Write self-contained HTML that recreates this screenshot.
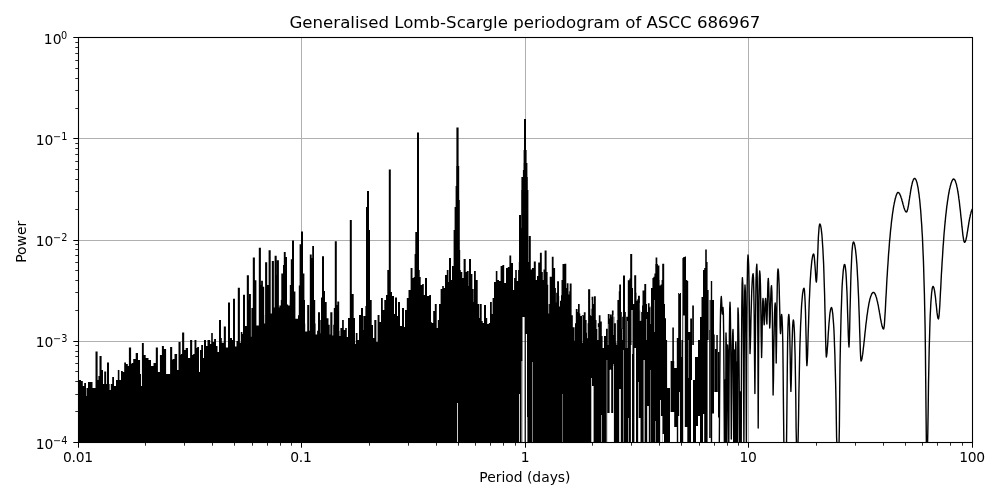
<!DOCTYPE html>
<html lang="en"><head><meta charset="utf-8"><title>Generalised Lomb-Scargle periodogram of ASCC 686967</title>
<style>html,body{margin:0;padding:0;background:#fff}body{width:1000px;height:500px;overflow:hidden}svg{display:block;will-change:transform}text{font-family:"DejaVu Sans","Liberation Sans",sans-serif;fill:#000}</style>
</head><body>
<svg width="1000" height="500" viewBox="0 0 1000 500">
<rect width="1000" height="500" fill="#fff"/>
<defs><clipPath id="ax"><rect x="78.5" y="37.5" width="894" height="405"/></clipPath>
<mask id="gm" maskUnits="userSpaceOnUse" x="0" y="0" width="1000" height="500"><rect width="1000" height="500" fill="#fff"/>
<rect x="457" y="403" width="0.8" height="57" fill="#000"/>
<rect x="519" y="394" width="0.8" height="66" fill="#000"/>
<rect x="521.6" y="361" width="0.9" height="99" fill="#000"/>
<rect x="527.2" y="417" width="0.4" height="43" fill="#000"/>
<rect x="522.5" y="317" width="2.1" height="143" fill="#000"/>
<rect x="525.8" y="334" width="1.2" height="126" fill="#000"/>
<rect x="532.2" y="362" width="0.5" height="98" fill="#000"/>
<rect x="562.2" y="394" width="0.4" height="66" fill="#000"/>
<rect x="591.3" y="378" width="0.7" height="82" fill="#000"/>
<rect x="592" y="386" width="1.6" height="74" fill="#000"/>
<rect x="601" y="415" width="0.6" height="45" fill="#000"/>
<rect x="607.2" y="413" width="6.4" height="47" fill="#000"/>
<rect x="609.6" y="370" width="1.6" height="90" fill="#000"/>
<rect x="613.4" y="366" width="0.5" height="94" fill="#000"/>
<rect x="619.2" y="389" width="1.6" height="71" fill="#000"/>
<rect x="623.3" y="350" width="0.5" height="110" fill="#000"/>
<rect x="628" y="418" width="0.6" height="42" fill="#000"/>
<rect x="630.9" y="345" width="1.1" height="115" fill="#000"/>
<rect x="634.4" y="348" width="1.6" height="112" fill="#000"/>
<rect x="638.4" y="382" width="0.6" height="78" fill="#000"/>
<rect x="638.4" y="418" width="2.1" height="42" fill="#000"/>
<rect x="643.6" y="360" width="1" height="100" fill="#000"/>
<rect x="647.2" y="406" width="1.6" height="54" fill="#000"/>
<rect x="650.2" y="370" width="0.4" height="90" fill="#000"/>
<rect x="655" y="421" width="0.5" height="39" fill="#000"/>
<rect x="660" y="400" width="0.8" height="60" fill="#000"/>
<rect x="660.8" y="416" width="1.6" height="44" fill="#000"/>
<rect x="662.4" y="434" width="1.6" height="26" fill="#000"/>
<rect x="606.7" y="360" width="0.5" height="100" fill="#000"/>
<rect x="610" y="369.6" width="1" height="90.4" fill="#000"/>
<rect x="613.1" y="364" width="0.5" height="96" fill="#000"/>
<rect x="582.2" y="316" width="0.5" height="27" fill="#000"/>
<rect x="587" y="321" width="0.5" height="17" fill="#000"/>
<rect x="591" y="300" width="0.4" height="16" fill="#000"/>
<rect x="597" y="327" width="0.5" height="13" fill="#000"/>
<rect x="598.2" y="327" width="0.4" height="13" fill="#000"/>
<rect x="603" y="332" width="0.5" height="16" fill="#000"/>
<rect x="607.8" y="324" width="0.5" height="21" fill="#000"/>
<rect x="613.4" y="315" width="0.4" height="20" fill="#000"/>
<rect x="616.6" y="316" width="0.5" height="29" fill="#000"/>
<rect x="622.2" y="329" width="0.5" height="11" fill="#000"/>
<rect x="627" y="321" width="0.5" height="27" fill="#000"/>
<rect x="631" y="310" width="0.5" height="44" fill="#000"/>
<rect x="632.4" y="310" width="0.5" height="44" fill="#000"/>
<rect x="635" y="348" width="0.5" height="16" fill="#000"/>
<rect x="639.8" y="303" width="0.5" height="18" fill="#000"/>
<rect x="646.2" y="319" width="0.5" height="21" fill="#000"/>
<rect x="650.2" y="305" width="0.4" height="19" fill="#000"/>
<rect x="654.2" y="300" width="0.5" height="32" fill="#000"/>
</mask></defs>
<g stroke="#b0b0b0" stroke-width="1" fill="none">
<line x1="301.5" y1="37.5" x2="301.5" y2="442.5"/>
<line x1="525.5" y1="37.5" x2="525.5" y2="442.5"/>
<line x1="748.5" y1="37.5" x2="748.5" y2="442.5"/>
<line x1="78.5" y1="138.5" x2="972.5" y2="138.5"/>
<line x1="78.5" y1="240.5" x2="972.5" y2="240.5"/>
<line x1="78.5" y1="341.5" x2="972.5" y2="341.5"/>
</g>
<g clip-path="url(#ax)">
<g mask="url(#gm)"><polygon points="77,460 77,381 79,381 79,380 81,380 81,381 82.8,381 82.8,386 84.2,386 84.2,383 86,383 86,396 86.5,396 86.5,388 88,388 88,382 92.5,382 92.5,388 95.5,388 95.5,351.4 97.6,351.4 97.6,380 98.4,380 98.4,376 99.5,376 99.5,356 101.6,356 101.6,370 103,370 103,384 104.2,384 104.2,371.4 106.2,371.4 106.2,384 107,384 107,362.4 109,362.4 109,384 109.6,384 109.6,390 110.8,390 110.8,384 112.2,384 112.2,377 114,377 114,386 116,386 116,380 117.8,380 117.8,370 119.4,370 119.4,380 121,380 121,371 122.8,371 122.8,372 124.2,372 124.2,362.4 126,362.4 126,364 127.8,364 127.8,366 128.9,366 128.9,347.6 131.1,347.6 131.1,364 131.6,364 131.6,363 133.2,363 133.2,359 135.7,359 135.7,353 138,353 138,360 140.1,360 140.1,374 141,374 141,386 141.9,386 141.9,343 143.8,343 143.8,355 145.7,355 145.7,358 148.5,358 148.5,360 151,360 151,366 153.5,366 153.5,363 155.8,363 155.8,347.6 157.9,347.6 157.9,372 159.9,372 159.9,355 161.9,355 161.9,346 163.9,346 163.9,349 166.1,349 166.1,374 170.1,374 170.1,347 172.2,347 172.2,360 172.6,360 172.6,359 174.5,359 174.5,354 177.1,354 177.1,370 178.5,370 178.5,342 180.6,342 180.6,355 180.9,355 180.9,354 182.1,354 182.1,332.6 184.2,332.6 184.2,350 185.7,350 185.7,348 188,348 188,358 190.1,358 190.1,340 192.2,340 192.2,355 193.2,355 193.2,354 194.5,354 194.5,340 196.4,340 196.4,348 197.2,348 197.2,347 199,347 199,372 200,372 200,350 201.2,350 201.2,345 203,345 203,358 204,358 204,340 206,340 206,346 207.5,346 207.5,340 210.1,340 210.1,344 211.2,344 211.2,333 212.8,333 212.8,342 214.1,342 214.1,339 216,339 216,346 217.5,346 217.5,352 219,352 219,320 221,320 221,338 221.8,338 221.8,342.8 223.8,342.8 223.8,326.6 225.9,326.6 225.9,347.6 228,347.6 228,302.6 230,302.6 230,338 232,338 232,340 233,340 233,298.8 235,298.8 235,346.4 236.5,346.4 236.5,341 237.8,341 237.8,287.8 239.9,287.8 239.9,342.8 240.8,342.8 240.8,332 242.4,332 242.4,334 243,334 243,294.8 245,294.8 245,326 246.8,326 246.8,275.2 248.9,275.2 248.9,300 249,300 249,294 250.9,294 250.9,336.8 251.4,336.8 251.4,308 252.8,308 252.8,257.4 254.9,257.4 254.9,280.2 256.4,280.2 256.4,325.4 258.8,325.4 258.8,247.8 260.9,247.8 260.9,285 261.1,285 261.1,280.8 262.9,280.8 262.9,286.8 264.2,286.8 264.2,315 264.3,315 264.3,323.6 265.1,323.6 265.1,262.2 267.2,262.2 267.2,285 268.6,285 268.6,250.2 270.7,250.2 270.7,313.4 271.8,313.4 271.8,261 273.9,261 273.9,307.4 274.6,307.4 274.6,255.8 276.7,255.8 276.7,275 276.8,275 276.8,260.2 278.9,260.2 278.9,307.4 279.4,307.4 279.4,305.6 280.8,305.6 280.8,300 281.3,300 281.3,273.6 283,273.6 283,265 283.8,265 283.8,252 285.7,252 285.7,257 287,257 287,304.4 288.1,304.4 288.1,305.6 289.7,305.6 289.7,300 289.8,300 289.8,285 290.8,285 290.8,259.2 292,259.2 292,240.6 294,240.6 294,291.6 295.4,291.6 295.4,318.8 298,318.8 298,315.2 298.8,315.2 298.8,285.6 299.6,285.6 299.6,244.2 301,244.2 301,231.4 303,231.4 303,273.6 304.4,273.6 304.4,300 305,300 305,323.6 305.2,323.6 305.2,331.4 307.2,331.4 307.2,305 309.2,305 309.2,330.8 309.8,330.8 309.8,254.4 311.7,254.4 311.7,258 312.2,258 312.2,246 314,246 314,300 315.2,300 315.2,323.6 315.6,323.6 315.6,334.4 317.1,334.4 317.1,330.8 318,330.8 318,312.2 320,312.2 320,333.2 320.3,333.2 320.3,320 321,320 321,297.6 322,297.6 322,256.2 324,256.2 324,291 325,291 325,302 326.7,302 326.7,318.2 328.5,318.2 328.5,324.8 329.7,324.8 329.7,334.4 330.3,334.4 330.3,312.2 332.4,312.2 332.4,335.6 333.2,335.6 333.2,324.8 333.8,324.8 333.8,308 334.8,308 334.8,241.2 336.8,241.2 336.8,305 337.3,305 337.3,301.4 339.2,301.4 339.2,330.8 339.5,330.8 339.5,336 340.4,336 340.4,328 342.1,328 342.1,320 343.8,320 343.8,330 345.2,330 345.2,328 346.8,328 346.8,337 348,337 348,318 349.8,318 349.8,220 351.8,220 351.8,294 353.7,294 353.7,318 355,318 355,344 355.8,344 355.8,333 357.5,333 357.5,340 359,340 359,315 361,315 361,308 363,308 363,330 363.3,330 363.3,316 365.4,316 365.4,306 366,306 366,207 367,207 367,191 369,191 369,230 370,230 370,300 371.7,300 371.7,325 373,325 373,338 374.3,338 374.3,320 376.4,320 376.4,342 377.6,342 377.6,315 379.5,315 379.5,322 381,322 381,298 382.8,298 382.8,310 384.3,310 384.3,300 386,300 386,295 387.3,295 387.3,270 388.8,270 388.8,169.6 390.8,169.6 390.8,292 392,292 392,296 394,296 394,314 395,314 395,297.6 397,297.6 397,316 398,316 398,302 400,302 400,326 402,326 402,308 404,308 404,327 405,327 405,310 406.8,310 406.8,298 408.5,298 408.5,290 410.6,290 410.6,268 412.5,268 412.5,278 413.7,278 413.7,277 414.6,277 414.6,254 415.3,254 415.3,232 417,232 417,132.6 419,132.6 419,270 419.7,270 419.7,277 420.7,277 420.7,285 422.2,285 422.2,284 423.8,284 423.8,295 425,295 425,278 427,278 427,296 429.2,296 429.2,295 431,295 431,322 431.7,322 431.7,323 433.2,323 433.2,311 434.8,311 434.8,304 436.7,304 436.7,328 437.8,328 437.8,320 439,320 439,304 440.6,304 440.6,289 442.2,289 442.2,286 443.8,286 443.8,288 445,288 445,275 446.8,275 446.8,270 448.5,270 448.5,282 449,282 449,258 451,258 451,280 452,280 452,266 453.6,266 453.6,230 454.6,230 454.6,207 455.6,207 455.6,186 456.2,186 456.2,166 456.4,166 456.4,127.4 458.6,127.4 458.6,166 459.2,166 459.2,200 459.8,200 459.8,250 460.2,250 460.2,270 460.8,270 460.8,272 462.3,272 462.3,278 463.6,278 463.6,259 465.7,259 465.7,272 466.8,272 466.8,271 468.7,271 468.7,286 469,286 469,259 471,259 471,274 472.4,274 472.4,289 473.7,289 473.7,302 474,302 474,271 475.8,271 475.8,280 477.7,280 477.7,304 479,304 479,318 479.6,318 479.6,304 481.7,304 481.7,321 482.7,321 482.7,323 484,323 484,305 486,305 486,318 487.2,318 487.2,324 488.8,324 488.8,323 490,323 490,302 491.8,302 491.8,314 492.6,314 492.6,298 494,298 494,282 495.8,282 495.8,271 497.4,271 497.4,280 499,280 499,281 500.6,281 500.6,266 502.4,266 502.4,265 504.2,265 504.2,283 506,283 506,268 507.8,268 507.8,267 509.4,267 509.4,255.6 511.2,255.6 511.2,263 513,263 513,290 514.1,290 514.1,278 515.2,278 515.2,270 516.8,270 516.8,281 518.1,281 518.1,270 518.8,270 518.8,262 519,262 519,215 521,215 521,228 521.2,228 521.2,190 521.4,190 521.4,177 522.9,177 522.9,170 523.5,170 523.5,163 523.6,163 523.6,150 524,150 524,119 526,119 526,150 526.6,150 526.6,163 527.4,163 527.4,177 527.8,177 527.8,190 528.4,190 528.4,262 528.8,262 528.8,236 530.8,236 530.8,269.6 532,269.6 532,268 533.8,268 533.8,261.6 535.8,261.6 535.8,280 537,280 537,276 538.2,276 538.2,262.4 539.9,262.4 539.9,252.8 541.8,252.8 541.8,272 542.8,272 542.8,280 543.5,280 543.5,269.6 544.6,269.6 544.6,250.4 546.6,250.4 546.6,272 547.6,272 547.6,284.8 548.2,284.8 548.2,304 548.5,304 548.5,313.6 549.1,313.6 549.1,304 549.7,304 549.7,276.8 551.8,276.8 551.8,256.8 553.6,256.8 553.6,268 555.1,268 555.1,288 555.9,288 555.9,302.4 556.2,302.4 556.2,292.8 557.1,292.8 557.1,281.3 559,281.3 559,296 559.2,296 559.2,306.4 560,306.4 560,300.8 561,300.8 561,295.2 561.5,295.2 561.5,280 562.5,280 562.5,264 564.4,264 564.4,263.7 566.3,263.7 566.3,288 566.8,288 566.8,283.2 568.5,283.2 568.5,291.2 568.6,291.2 568.6,294.4 569.2,294.4 569.2,291.2 569.7,291.2 569.7,283.5 571.6,283.5 571.6,315.2 572.8,315.2 572.8,327.2 574.6,327.2 574.6,340.8 575,340.8 575,323.2 575.8,323.2 575.8,309.1 577.6,309.1 577.6,312 578,312 578,304 579.7,304 579.7,313.6 580.3,313.6 580.3,316 581.8,316 581.8,315.2 583.8,315.2 583.8,312.3 585.6,312.3 585.6,320 586.6,320 586.6,332.8 587,332.8 587,338.4 587.3,338.4 587.3,323.2 588.1,323.2 588.1,289.3 590.2,289.3 590.2,315.2 590.9,315.2 590.9,308.8 591.6,308.8 591.6,296.8 593.3,296.8 593.3,304 593.9,304 593.9,296.3 595.8,296.3 595.8,320 596.5,320 596.5,329 597.5,329 597.5,340 597.8,340 597.8,323.2 598.8,323.2 598.8,315.2 600.5,315.2 600.5,321.6 601.8,321.6 601.8,336 602.6,336 602.6,348 604,348 604,336 606,336 606,328.8 607.8,328.8 607.8,313.9 609.6,313.9 609.6,318.4 610,318.4 610,314.4 611.7,314.4 611.7,316.8 611.9,316.8 611.9,310.4 613.6,310.4 613.6,316.8 614.3,316.8 614.3,323.2 615.9,323.2 615.9,342.4 616.6,342.4 616.6,344.8 616.7,344.8 616.7,320 617.4,320 617.4,300 618.8,300 618.8,291.2 619.2,291.2 619.2,284.5 621,284.5 621,312 621.8,312 621.8,328.8 622.2,328.8 622.2,316.8 623,316.8 623,275.5 625,275.5 625,312 625.8,312 625.8,348 626.2,348 626.2,316.8 627.8,316.8 627.8,280.3 629.4,280.3 629.4,278.4 630.2,278.4 630.2,254.1 632.2,254.1 632.2,288 633,288 633,304 634.2,304 634.2,275.2 636.2,275.2 636.2,292.8 636.5,292.8 636.5,300.8 637.3,300.8 637.3,299.2 638,299.2 638,295.7 639.9,295.7 639.9,310.4 640.3,310.4 640.3,320.8 641.2,320.8 641.2,312 642,312 642,305.6 642.5,305.6 642.5,290.4 644.3,290.4 644.3,284 646.2,284 646.2,304 647,304 647,312 647.9,312 647.9,303.2 649.6,303.2 649.6,307.2 650.6,307.2 650.6,305.9 651,305.9 651,288 652.4,288 652.4,278.1 653.4,278.1 653.4,276.8 654.4,276.8 654.4,273.6 655.3,273.6 655.3,264 655.6,264 655.6,257.6 657.3,257.6 657.3,264 657.9,264 657.9,265.6 659.4,265.6 659.4,280 659.6,280 659.6,285.6 660.6,285.6 660.6,284.5 661.6,284.5 661.6,280 662.2,280 662.2,263.7 664.2,263.7 664.2,304 665,304 665,318.5 666,318.5 666,445 666.1,445 666.1,460 666.7,460 666.7,460" fill="#000"/></g>
<path d="M664 446V318H665.5V446ZM665.9 446V340H667.1V446ZM667 446V388H670V446ZM670.6 412V361H674.2V412ZM674.2 427V368H676.8V427ZM672.3 362V327.5H673.9V362ZM676.8 446V338H678.2V446ZM678.2 416V293H679.2V416ZM679.2 392V294H680V392ZM680 446V293H681V446ZM681 446V340H682.5V446ZM682.4 446V258H683.2V446ZM683.2 315.5V257H684.8V315.5ZM684.8 427V256.5H686V427ZM686 427V280H687.3V427ZM687.3 446V281H688.2V446ZM688.2 446V332H689.2V446ZM689.2 446V332H690.2V446ZM690.2 446V318.5H691V446ZM691 380V318.5H692V380ZM692.2 345V305.5H693.9V345ZM693 446V380H696V446ZM695 426V357H698V426ZM698 416V340H700V416ZM700 446V317H701.5V446ZM701.5 446V297H703V446ZM703 414V270H704.2V414ZM704.2 446V268H705.2V446ZM705.2 446V249.5H706.8V446ZM706.8 446V262H707.6V446ZM707.6 340V290H708.6V340ZM709.2 438V300H710.6V438ZM710.8 446V281H712.2V446ZM712.2 413.5V300H714V413.5ZM713.2 392V334.5H714.7V392ZM715 392V349H716.3V392ZM716.3 392V335H717.8V392ZM718 417.5V352H719.6V417.5Z" fill="#000"/>
<rect x="681.3" y="340" width="0.4" height="17" fill="#fff"/>
<rect x="688.1" y="340" width="0.4" height="38" fill="#fff"/>
<rect x="709" y="290" width="0.5" height="40" fill="#fff"/>
<polyline points="719.3,446 719.6,398.5 720,353.2 720.3,325.5 720.6,308.7 721,299.4 721.3,296.5 721.5,298.7 721.8,304.4 722,311 722.3,314 722.5,313 722.6,310.6 722.8,308.4 723,307.5 723.4,314.1 723.7,336.1 724,382.1 724.4,446 724.6,427.9 724.8,401.6 724.9,385.3 725.1,380 725.2,385.3 725.4,401.6 725.6,427.9 725.7,446 725.8,401.2 725.9,360.2 725.9,339.4 726,333 726.2,339.4 726.5,360.2 726.7,401.2 726.9,446 727.1,409.2 727.2,371.2 727.4,351.2 727.6,345 727.9,351.2 728.2,371.2 728.5,409.2 728.8,446 729.1,377.8 729.4,331 729.7,308.9 730,302.2 730.3,308.8 730.6,330.7 731,376.5 731.3,439 731.6,407.3 732,369.8 732.3,346.2 732.7,333.5 733,329.5 733.2,335.9 733.4,357 733.5,398.8 733.7,446 733.9,412.3 734,375.8 734.2,356.1 734.4,350 734.6,356.1 734.8,375.8 734.9,412.3 735.1,446 735.3,407.2 735.5,368.5 735.6,348.3 735.8,342 736,348.3 736.1,368.5 736.3,407.2 736.5,446 736.6,419.1 736.8,386.4 737,367.9 737.1,362 737.2,367.9 737.4,386.4 737.5,419.1 737.6,446 737.7,382.5 737.8,336.6 737.9,314.6 738,308 738.4,314.6 738.8,336.6 739.2,382.5 739.6,446 739.8,432.7 740,411.2 740.2,396.8 740.4,392 740.6,396.8 740.8,411.2 741,432.7 741.2,446 741.5,356.8 741.8,307.1 742.1,284.4 742.4,277.6 742.8,284.4 743.1,307.1 743.5,356.8 743.9,446 744.2,363.3 744.5,314.3 744.7,291.8 745,285 745.4,291.8 745.7,314.3 746,363.3 746.4,446 746.8,336.2 747.2,284.9 747.6,261.9 748,255 748.3,257.7 748.7,266.1 749,281 749.3,303.8 749.7,333.9 750,353.6 750.3,347.2 750.7,332.8 751,317.1 751.4,303.3 751.7,292.3 752.1,283.9 752.4,278.1 752.8,274.7 753.1,273.6 753.5,277.7 753.8,290.7 754.2,315.2 754.5,355.6 754.9,393.5 755.3,349.7 755.7,306.8 756,281.7 756.4,268.5 756.8,264.3 757.1,271.1 757.5,293.7 757.9,342.9 758.2,428 758.6,348.7 759,300.2 759.3,277.7 759.7,271 760.1,274.8 760.5,286.5 760.8,307.4 761.2,337.2 761.6,357.6 762,342.3 762.3,318.7 762.6,303.4 763,298.4 763.3,301.4 763.6,309.6 763.9,319.8 764.2,324.8 764.6,319.8 764.9,309.6 765.2,301.4 765.6,298.4 765.9,301.3 766.2,309.4 766.6,319.2 766.9,324 767.2,313.6 767.6,295.5 767.9,282.8 768.3,278.4 768.6,283 769,296.5 769.4,316.3 769.7,328 770.1,321.7 770.4,308.4 770.8,296.2 771.1,288.3 771.5,285.6 771.9,291.9 772.3,312.6 772.7,352.7 773.1,395 773.5,377.9 773.8,350.1 774.2,328.3 774.5,313.9 774.9,305.7 775.2,303 775.5,308.1 775.7,323.5 776,347.4 776.2,363 776.6,339.3 776.9,306.8 777.3,285 777.6,272.9 778,269 778.4,270.7 778.7,275.9 779.1,284.6 779.4,297 779.8,312.1 780.1,326.9 780.5,333.6 780.8,330.2 781,323 781.3,316.7 781.6,314.4 782,317.3 782.4,326.3 782.8,342.7 783.1,369.2 783.5,409.9 783.9,446 784.3,446 784.6,446 785,446 785.4,446 785.8,446 786.1,446 786.5,446 786.9,409.9 787.3,369.2 787.6,342.7 788,326.3 788.4,317.3 788.8,314.4 789.1,316.9 789.5,324.6 789.8,337.8 790.2,356.9 790.5,379.2 790.9,391.4 791.2,383.3 791.6,366.4 791.9,349.7 792.3,336.4 792.6,327.2 793,321.8 793.3,320 793.7,321.3 794,325.1 794.4,331.8 794.7,341.7 795.1,355.4 795.4,374 795.8,398.6 796.1,428.2 796.5,446 796.9,446 797.2,446 797.5,446 797.9,446 798.2,435.6 798.6,414.2 798.9,392.8 799.3,374.2 799.6,358.7 799.9,345.7 800.3,334.7 800.6,325.4 801,317.6 801.3,310.9 801.6,305.2 802,300.5 802.3,296.7 802.6,293.6 803,291.3 803.3,289.6 803.7,288.6 804,288.3 804.4,289.7 804.7,294 805.1,301.3 805.5,311.8 805.8,325.6 806.2,342.2 806.5,358.2 806.9,365.6 807.2,362.5 807.6,354.6 807.9,344 808.2,332.7 808.6,321.8 808.9,311.7 809.2,302.7 809.6,294.6 809.9,287.4 810.2,281.1 810.6,275.6 810.9,270.8 811.3,266.7 811.6,263.2 811.9,260.4 812.3,258 812.6,256.3 812.9,255 813.3,254.2 813.6,254 814,254.8 814.3,257.1 814.6,260.9 815,265.8 815.4,271.3 815.7,276.6 816,280.5 816.4,282 816.7,279.1 817.1,271.8 817.4,262.3 817.8,252.7 818.1,244.1 818.4,236.8 818.8,231.2 819.1,227.2 819.5,224.8 819.8,224 820.1,224.3 820.5,225.1 820.8,226.6 821.2,228.6 821.5,231.3 821.9,234.7 822.2,238.7 822.5,243.5 822.9,249.2 823.2,255.8 823.6,263.4 823.9,272.3 824.2,282.5 824.6,294.3 824.9,307.7 825.3,322.7 825.6,338.3 826,351.5 826.3,357 826.6,356 827,353.2 827.3,349 827.7,344 828,338.6 828.3,333.2 828.7,328.1 829,323.4 829.4,319.3 829.7,315.7 830,312.8 830.4,310.5 830.7,308.9 831.1,307.9 831.4,307.6 831.8,308 832.1,309.2 832.4,311.3 832.8,314.2 833.1,318.1 833.5,323 833.9,329 834.2,336.2 834.5,344.9 834.9,355.2 835.2,367.5 835.6,382.2 836,399.5 836.3,419 836.6,437.5 837,446 837.3,446 837.7,446 838,446 838.3,446 838.7,446 839,446 839.4,425.6 839.7,393.1 840,366 840.4,344.9 840.8,328.1 841.1,314.5 841.5,303.4 841.8,294.2 842.1,286.5 842.5,280.3 842.9,275.2 843.2,271.2 843.6,268.2 843.9,266.1 844.2,264.8 844.6,264.4 844.9,264.9 845.3,266.6 845.6,269.3 846,273.3 846.3,278.4 846.6,284.9 847,292.7 847.3,301.9 847.6,312.4 848,323.7 848.3,334.9 848.7,343.6 849,347 849.3,341.1 849.7,327.2 850,311.4 850.4,296.7 850.7,284 851,273.2 851.4,264.4 851.7,257.2 852,251.6 852.4,247.3 852.7,244.3 853.1,242.6 853.4,242 853.7,242.2 854.1,242.8 854.4,243.9 854.8,245.4 855.1,247.3 855.5,249.7 855.8,252.6 856.2,256 856.5,259.9 856.9,264.5 857.2,269.6 857.5,275.5 857.9,282.1 858.2,289.5 858.6,297.8 858.9,307 859.3,317.2 859.6,328.2 860,339.5 860.3,350 860.7,358 861,361 861.3,360.7 861.7,359.8 862,358.4 862.3,356.5 862.7,354.2 863,351.6 863.3,348.7 863.7,345.7 864,342.5 864.4,339.3 864.7,336.1 865,332.9 865.4,329.8 865.7,326.7 866,323.8 866.4,321 866.7,318.3 867,315.7 867.4,313.3 867.7,311 868,308.8 868.4,306.8 868.7,304.9 869,303.2 869.4,301.5 869.7,300.1 870,298.7 870.4,297.5 870.7,296.4 871.1,295.5 871.4,294.7 871.7,294 872.1,293.4 872.4,293 872.7,292.7 873.1,292.5 873.4,292.4 873.7,292.5 874.1,292.7 874.4,293 874.8,293.5 875.1,294.1 875.4,294.8 875.8,295.7 876.1,296.7 876.5,297.8 876.8,299.1 877.1,300.5 877.5,301.9 877.8,303.5 878.2,305.2 878.5,307 878.8,308.8 879.2,310.7 879.5,312.7 879.9,314.7 880.2,316.6 880.5,318.6 880.9,320.4 881.2,322.2 881.6,323.9 881.9,325.3 882.2,326.6 882.6,327.6 882.9,328.4 883.3,328.8 883.6,329 883.9,328.1 884.3,325.5 884.6,321.5 884.9,316.4 885.3,310.6 885.6,304.4 885.9,298.1 886.3,291.8 886.6,285.6 886.9,279.7 887.3,273.9 887.6,268.5 888,263.3 888.3,258.3 888.6,253.6 889,249.1 889.3,244.9 889.6,240.9 890,237.1 890.3,233.5 890.6,230.1 891,226.8 891.3,223.8 891.6,220.9 892,218.1 892.3,215.5 892.6,213.1 893,210.8 893.3,208.7 893.6,206.6 894,204.7 894.3,203 894.7,201.3 895,199.8 895.3,198.5 895.7,197.2 896,196.1 896.3,195.1 896.7,194.2 897,193.5 897.3,193 897.7,192.6 898,192.4 898.3,192.5 898.7,192.6 899,193 899.3,193.4 899.7,193.9 900,194.6 900.4,195.4 900.7,196.2 901,197.2 901.4,198.2 901.7,199.3 902,200.5 902.4,201.7 902.7,203 903,204.2 903.4,205.4 903.7,206.6 904,207.7 904.4,208.8 904.7,209.7 905.1,210.5 905.4,211.1 905.7,211.6 906.1,211.9 906.4,212 906.7,211.8 907.1,211.1 907.4,210.1 907.8,208.7 908.1,207.1 908.5,205.2 908.8,203.1 909.1,200.9 909.5,198.7 909.8,196.4 910.2,194.2 910.5,192.1 910.8,190 911.2,188.1 911.5,186.3 911.9,184.7 912.2,183.3 912.5,182 912.9,180.9 913.2,180 913.6,179.3 913.9,178.8 914.3,178.5 914.6,178.4 914.9,178.5 915.3,178.8 915.6,179.2 915.9,179.8 916.3,180.6 916.6,181.6 917,182.8 917.3,184.2 917.6,185.8 918,187.5 918.3,189.5 918.6,191.8 919,194.2 919.3,197 919.7,200 920,203.2 920.3,206.8 920.7,210.8 921,215.1 921.3,219.8 921.7,224.9 922,230.6 922.4,236.8 922.7,243.7 923,251.3 923.4,259.9 923.7,269.6 924,280.6 924.4,293.4 924.7,308.6 925.1,326.8 925.4,349.7 925.7,379.5 926.1,418.1 926.4,446 926.7,446 927,446 927.2,446 927.5,446 927.8,432.7 928.2,407.5 928.5,384 928.9,364.5 929.2,348.6 929.6,335.5 929.9,324.7 930.2,315.7 930.6,308.2 930.9,302.1 931.3,297.1 931.6,293.2 932,290.2 932.3,288.1 932.7,286.8 933,286.4 933.3,286.6 933.7,287.3 934,288.4 934.4,289.9 934.7,291.8 935,294.1 935.4,296.8 935.7,299.7 936,302.9 936.4,306.2 936.7,309.4 937,312.4 937.4,315.1 937.7,317.2 938.1,318.5 938.4,319 938.7,318 939.1,315.3 939.4,311.1 939.8,305.7 940.1,299.7 940.4,293.4 940.8,286.9 941.1,280.5 941.4,274.2 941.8,268.1 942.1,262.4 942.5,256.8 942.8,251.6 943.1,246.6 943.5,241.9 943.8,237.4 944.1,233.2 944.5,229.1 944.8,225.3 945.2,221.7 945.5,218.3 945.8,215.1 946.2,212 946.5,209.1 946.8,206.4 947.2,203.8 947.5,201.4 947.9,199.1 948.2,196.9 948.5,194.9 948.9,193 949.2,191.2 949.5,189.5 949.9,188 950.2,186.6 950.6,185.3 950.9,184.1 951.2,183 951.6,182 951.9,181.2 952.2,180.5 952.6,179.9 952.9,179.4 953.3,179.1 953.6,179 953.9,179.1 954.3,179.3 954.6,179.7 954.9,180.2 955.3,180.9 955.6,181.7 955.9,182.7 956.3,183.9 956.6,185.2 956.9,186.7 957.3,188.3 957.6,190.1 957.9,192 958.3,194.2 958.6,196.4 958.9,198.9 959.3,201.4 959.6,204.2 959.9,207.1 960.3,210.1 960.6,213.2 960.9,216.4 961.3,219.6 961.6,222.9 961.9,226.2 962.3,229.3 962.6,232.4 962.9,235.1 963.3,237.6 963.6,239.6 963.9,241.1 964.3,242.1 964.6,242.4 964.9,242.2 965.3,241.6 965.6,240.7 966,239.5 966.3,238 966.7,236.3 967,234.4 967.3,232.4 967.7,230.3 968,228.1 968.4,226 968.7,223.9 969,221.9 969.4,220 969.7,218.2 970.1,216.5 970.4,214.9 970.8,213.5 971.1,212.2 971.4,211.1 971.8,210.2 972.1,209.4 972.5,208.8 972.8,208.3 973.2,208.1 973.5,208" fill="none" stroke="#000" stroke-width="1.4" stroke-linejoin="round"/>
</g>
<rect x="78.5" y="37.5" width="894" height="405" fill="none" stroke="#000" stroke-width="1.1"/>
<g stroke="#000" stroke-width="1.05">
<line x1="78.5" y1="442.5" x2="78.5" y2="447.7"/>
<line x1="78.5" y1="442.5" x2="73.3" y2="442.5"/>
<line x1="301.5" y1="442.5" x2="301.5" y2="447.7"/>
<line x1="78.5" y1="341.5" x2="73.3" y2="341.5"/>
<line x1="525.5" y1="442.5" x2="525.5" y2="447.7"/>
<line x1="78.5" y1="240.5" x2="73.3" y2="240.5"/>
<line x1="748.5" y1="442.5" x2="748.5" y2="447.7"/>
<line x1="78.5" y1="138.5" x2="73.3" y2="138.5"/>
<line x1="972.5" y1="442.5" x2="972.5" y2="447.7"/>
<line x1="78.5" y1="37.5" x2="73.3" y2="37.5"/>
</g><g stroke="#000" stroke-width="0.83">
<line x1="145.5" y1="442.5" x2="145.5" y2="445.7"/>
<line x1="78.5" y1="411.5" x2="75.3" y2="411.5"/>
<line x1="184.5" y1="442.5" x2="184.5" y2="445.7"/>
<line x1="78.5" y1="394.5" x2="75.3" y2="394.5"/>
<line x1="212.5" y1="442.5" x2="212.5" y2="445.7"/>
<line x1="78.5" y1="381.5" x2="75.3" y2="381.5"/>
<line x1="234.5" y1="442.5" x2="234.5" y2="445.7"/>
<line x1="78.5" y1="371.5" x2="75.3" y2="371.5"/>
<line x1="252.5" y1="442.5" x2="252.5" y2="445.7"/>
<line x1="78.5" y1="363.5" x2="75.3" y2="363.5"/>
<line x1="267.5" y1="442.5" x2="267.5" y2="445.7"/>
<line x1="78.5" y1="356.5" x2="75.3" y2="356.5"/>
<line x1="280.5" y1="442.5" x2="280.5" y2="445.7"/>
<line x1="78.5" y1="351.5" x2="75.3" y2="351.5"/>
<line x1="291.5" y1="442.5" x2="291.5" y2="445.7"/>
<line x1="78.5" y1="345.5" x2="75.3" y2="345.5"/>
<line x1="369.5" y1="442.5" x2="369.5" y2="445.7"/>
<line x1="78.5" y1="310.5" x2="75.3" y2="310.5"/>
<line x1="408.5" y1="442.5" x2="408.5" y2="445.7"/>
<line x1="78.5" y1="292.5" x2="75.3" y2="292.5"/>
<line x1="436.5" y1="442.5" x2="436.5" y2="445.7"/>
<line x1="78.5" y1="280.5" x2="75.3" y2="280.5"/>
<line x1="458.5" y1="442.5" x2="458.5" y2="445.7"/>
<line x1="78.5" y1="270.5" x2="75.3" y2="270.5"/>
<line x1="475.5" y1="442.5" x2="475.5" y2="445.7"/>
<line x1="78.5" y1="262.5" x2="75.3" y2="262.5"/>
<line x1="490.5" y1="442.5" x2="490.5" y2="445.7"/>
<line x1="78.5" y1="255.5" x2="75.3" y2="255.5"/>
<line x1="503.5" y1="442.5" x2="503.5" y2="445.7"/>
<line x1="78.5" y1="249.5" x2="75.3" y2="249.5"/>
<line x1="515.5" y1="442.5" x2="515.5" y2="445.7"/>
<line x1="78.5" y1="244.5" x2="75.3" y2="244.5"/>
<line x1="592.5" y1="442.5" x2="592.5" y2="445.7"/>
<line x1="78.5" y1="209.5" x2="75.3" y2="209.5"/>
<line x1="631.5" y1="442.5" x2="631.5" y2="445.7"/>
<line x1="78.5" y1="191.5" x2="75.3" y2="191.5"/>
<line x1="659.5" y1="442.5" x2="659.5" y2="445.7"/>
<line x1="78.5" y1="179.5" x2="75.3" y2="179.5"/>
<line x1="681.5" y1="442.5" x2="681.5" y2="445.7"/>
<line x1="78.5" y1="169.5" x2="75.3" y2="169.5"/>
<line x1="699.5" y1="442.5" x2="699.5" y2="445.7"/>
<line x1="78.5" y1="161.5" x2="75.3" y2="161.5"/>
<line x1="714.5" y1="442.5" x2="714.5" y2="445.7"/>
<line x1="78.5" y1="154.5" x2="75.3" y2="154.5"/>
<line x1="727.5" y1="442.5" x2="727.5" y2="445.7"/>
<line x1="78.5" y1="148.5" x2="75.3" y2="148.5"/>
<line x1="738.5" y1="442.5" x2="738.5" y2="445.7"/>
<line x1="78.5" y1="143.5" x2="75.3" y2="143.5"/>
<line x1="816.5" y1="442.5" x2="816.5" y2="445.7"/>
<line x1="78.5" y1="108.5" x2="75.3" y2="108.5"/>
<line x1="855.5" y1="442.5" x2="855.5" y2="445.7"/>
<line x1="78.5" y1="90.5" x2="75.3" y2="90.5"/>
<line x1="883.5" y1="442.5" x2="883.5" y2="445.7"/>
<line x1="78.5" y1="78.5" x2="75.3" y2="78.5"/>
<line x1="905.5" y1="442.5" x2="905.5" y2="445.7"/>
<line x1="78.5" y1="68.5" x2="75.3" y2="68.5"/>
<line x1="922.5" y1="442.5" x2="922.5" y2="445.7"/>
<line x1="78.5" y1="60.5" x2="75.3" y2="60.5"/>
<line x1="937.5" y1="442.5" x2="937.5" y2="445.7"/>
<line x1="78.5" y1="53.5" x2="75.3" y2="53.5"/>
<line x1="950.5" y1="442.5" x2="950.5" y2="445.7"/>
<line x1="78.5" y1="47.5" x2="75.3" y2="47.5"/>
<line x1="962.5" y1="442.5" x2="962.5" y2="445.7"/>
<line x1="78.5" y1="42.5" x2="75.3" y2="42.5"/>
</g>
<g font-size="13.89px" text-anchor="middle">
<text x="78" y="462" letter-spacing="-0.25">0.01</text>
<text x="300.9" y="462" letter-spacing="-0.25">0.1</text>
<text x="525" y="462" letter-spacing="-0.25">1</text>
<text x="748" y="462" letter-spacing="-0.25">10</text>
<text x="972" y="462" letter-spacing="-0.25">100</text>
<text x="524.9" y="481.6">Period (days)</text>
<text transform="translate(26.2,241.8) rotate(-90)">Power</text>
</g>
<text x="53.4" y="448.9" font-size="13.89px" text-anchor="end">10</text>
<text x="53" y="443.7" font-size="9.72px">−4</text>
<text x="53.4" y="347" font-size="13.89px" text-anchor="end">10</text>
<text x="53" y="341.8" font-size="9.72px">−3</text>
<text x="53.4" y="246" font-size="13.89px" text-anchor="end">10</text>
<text x="53" y="240.8" font-size="9.72px">−2</text>
<text x="53.4" y="144.9" font-size="13.89px" text-anchor="end">10</text>
<text x="53" y="139.7" font-size="9.72px">−1</text>
<text x="61.5" y="43.9" font-size="13.89px" text-anchor="end">10</text>
<text x="61.1" y="38.7" font-size="9.72px">0</text>
<text x="524.9" y="28.3" font-size="16.63px" text-anchor="middle">Generalised Lomb-Scargle periodogram of ASCC 686967</text>
</svg></body></html>
